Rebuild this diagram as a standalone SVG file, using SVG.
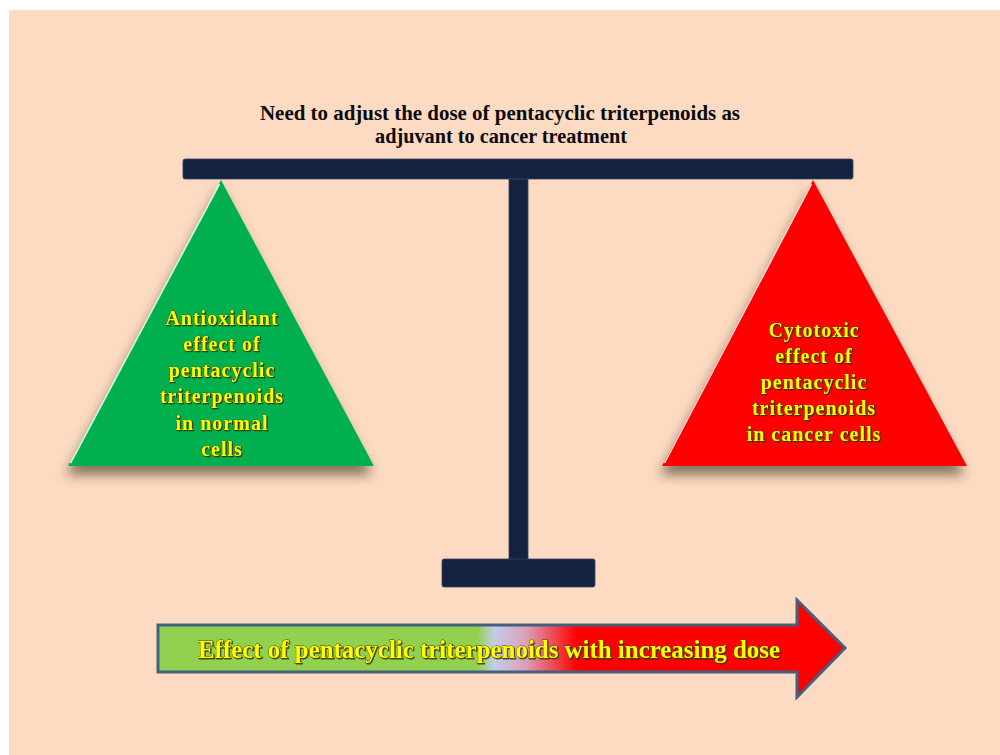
<svg xmlns="http://www.w3.org/2000/svg" width="1000" height="755" viewBox="0 0 1000 755">
  <defs>
    <style>
      .title { font-family: "Liberation Serif", "Times New Roman", serif; font-weight: bold; font-size: 22px; fill: #0a0a0a; }
      .ylw { font-family: "Liberation Serif", "Times New Roman", serif; font-weight: bold; font-size: 20px; fill: #FFFF00; stroke: #4a4200; stroke-width: 0.7px; paint-order: stroke fill; letter-spacing: 1px; filter: url(#txtShadow); }
      .arrowtxt { font-family: "Liberation Serif", "Times New Roman", serif; font-weight: bold; font-size: 25px; fill: #FFFF00; stroke: #4a4200; stroke-width: 0.8px; paint-order: stroke fill; filter: url(#txtShadow); }
      .beam { fill: #13233F; stroke: #33445F; stroke-width: 0.8; }
      .hl { stroke: #FFFFFF; stroke-width: 1.6; stroke-opacity: 0.85; fill: none; }
    </style>
    <filter id="triShadow" x="-20%" y="-20%" width="140%" height="140%">
      <feDropShadow dx="-2" dy="9" stdDeviation="6" flood-color="#3a2a20" flood-opacity="0.6"/>
    </filter>
    <filter id="txtShadow" x="-5%" y="-20%" width="110%" height="150%">
      <feDropShadow dx="1" dy="1" stdDeviation="0.4" flood-color="#2a2a00" flood-opacity="0.8"/>
    </filter>
    <linearGradient id="doseGrad" gradientUnits="userSpaceOnUse" x1="158" y1="0" x2="845" y2="0">
      <stop offset="0" stop-color="#92D050"/>
      <stop offset="0.465" stop-color="#92D050"/>
      <stop offset="0.49" stop-color="#C4CCEA"/>
      <stop offset="0.535" stop-color="#D9A2B6"/>
      <stop offset="0.61" stop-color="#FF0000"/>
      <stop offset="1" stop-color="#FF0000"/>
    </linearGradient>
  </defs>

  <rect x="0" y="0" width="1000" height="755" fill="#FFFFFF"/>
  <rect x="9" y="10" width="991" height="745" fill="#FCDBC2"/>

  <g id="title">
    <text class="title" x="260" y="120" textLength="480" lengthAdjust="spacingAndGlyphs">Need to adjust the dose of pentacyclic triterpenoids as</text>
    <text class="title" x="375" y="143" textLength="252" lengthAdjust="spacingAndGlyphs">adjuvant to cancer treatment</text>
  </g>

  <g id="balance">
    <rect class="beam" x="183" y="159" width="670" height="20" rx="2"/>
    <rect class="beam" x="509" y="179" width="19" height="381"/>
    <rect class="beam" x="442" y="559" width="153" height="28" rx="2"/>
  </g>

  <g id="antioxidant">
    <polygon points="221,180 68,466 374,466" fill="#00B050" filter="url(#triShadow)"/>
    <line class="hl" x1="219.5" y1="184" x2="70.5" y2="463"/>
    <text class="ylw" text-anchor="middle" x="222" y="325">Antioxidant</text>
    <text class="ylw" text-anchor="middle" x="222" y="351">effect of</text>
    <text class="ylw" text-anchor="middle" x="222" y="377">pentacyclic</text>
    <text class="ylw" text-anchor="middle" x="222" y="403">triterpenoids</text>
    <text class="ylw" text-anchor="middle" x="222" y="430">in normal</text>
    <text class="ylw" text-anchor="middle" x="222" y="456">cells</text>
  </g>

  <g id="cytotoxic">
    <polygon points="813,180 662,466 967,466" fill="#FF0000" filter="url(#triShadow)"/>
    <line class="hl" x1="811.5" y1="184" x2="664.5" y2="463"/>
    <text class="ylw" text-anchor="middle" x="814" y="337">Cytotoxic</text>
    <text class="ylw" text-anchor="middle" x="814" y="363">effect of</text>
    <text class="ylw" text-anchor="middle" x="814" y="389">pentacyclic</text>
    <text class="ylw" text-anchor="middle" x="814" y="415">triterpenoids</text>
    <text class="ylw" text-anchor="middle" x="814" y="441">in cancer cells</text>
  </g>

  <g id="connectors">
    <g id="dose-arrow">
      <path d="M158,625 L797,625 L797,600 L845,648 L797,697 L797,672 L158,672 Z" fill="url(#doseGrad)" stroke="#44607F" stroke-width="3" stroke-linejoin="miter"/>
      <text class="arrowtxt" x="198" y="658" textLength="582" lengthAdjust="spacingAndGlyphs">Effect of pentacyclic triterpenoids with increasing dose</text>
    </g>
  </g>
</svg>
